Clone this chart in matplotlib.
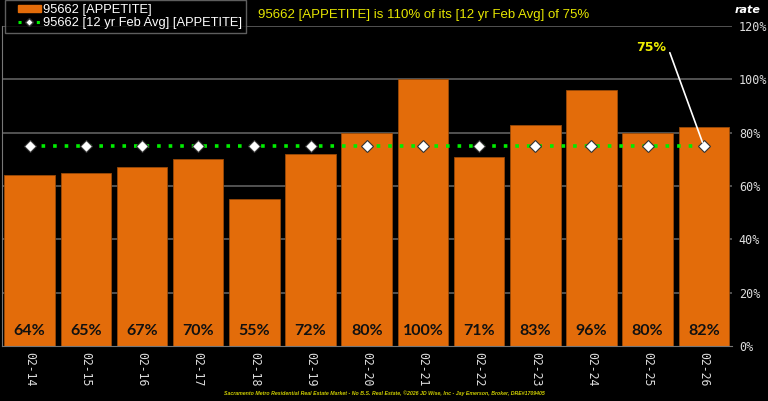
import matplotlib
matplotlib.use("Agg")
import matplotlib.pyplot as plt
from matplotlib.lines import Line2D
from matplotlib.patches import Patch
from matplotlib.legend_handler import HandlerLine2D, HandlerPatch

categories = ["02-14", "02-15", "02-16", "02-17", "02-18", "02-19", "02-20",
              "02-21", "02-22", "02-23", "02-24", "02-25", "02-26"]
appetite = [64, 65, 67, 70, 55, 72, 80, 100, 71, 83, 96, 80, 82]
avg_12yr = [75] * 13
yticks = [0, 20, 40, 60, 80, 100, 120]


class ShiftedLine(HandlerLine2D):
    def create_artists(self, legend, orig_handle, xdescent, ydescent, width,
                       height, fontsize, trans):
        s = width * 0.3
        return super().create_artists(legend, orig_handle, xdescent - s, ydescent,
                                      width - s, height, fontsize, trans)


class ShiftedPatch(HandlerPatch):
    def create_artists(self, legend, orig_handle, xdescent, ydescent, width,
                       height, fontsize, trans):
        s = width * 0.3
        return super().create_artists(legend, orig_handle, xdescent - s, ydescent,
                                      width - s, height, fontsize, trans)


fig = plt.figure(figsize=(7.68, 4.01), dpi=100, facecolor="black")
ax = fig.add_axes([0.002, 0.137, 0.951, 0.798], facecolor="black")

x = list(range(len(categories)))
for yt in yticks[1:]:
    ax.axhline(yt, color="#606060", linewidth=1.2, zorder=0.5)
ax.bar(x, appetite, width=0.9, color="#E36C0A", edgecolor="#9a4a08", linewidth=0.6, zorder=2)
for xi, v in zip(x, appetite):
    ax.text(xi, 3.2, f"{v}%", ha="center", va="bottom", fontsize=11.5,
            fontweight="bold", family="Lato", color="#111111", zorder=4)

ax.plot(x, avg_12yr, linestyle=(0, (1, 2.2)), color="#00ee00", linewidth=2.6,
        marker="D", markersize=6, markerfacecolor="white", markeredgecolor="#333333",
        markeredgewidth=0.8, zorder=3)

ax.set_xlim(-0.5, len(categories) - 0.5)
ax.set_ylim(0, 120)
ax.set_yticks(yticks)
ax.set_yticklabels([f"{t}%" for t in yticks], family="DejaVu Sans Mono",
                   fontsize=8.5, color="#dddddd")
ax.yaxis.tick_right()
ax.tick_params(axis="y", length=0, pad=5)
ax.set_xticks(x)
ax.set_xticklabels(categories, rotation=-90, family="DejaVu Sans Mono",
                   fontsize=8.3, color="#dddddd")
ax.tick_params(axis="x", length=0, pad=4)
for s in ["top", "right"]:
    ax.spines[s].set_visible(False)
ax.spines["left"].set_color("#777777")
ax.spines["bottom"].set_color("#777777")

# annotation for last avg point
ax.annotate(f"{avg_12yr[-1]}%", xy=(x[-1], avg_12yr[-1]), xytext=(x[-1] - 0.93, 112),
            ha="center", va="center", fontsize=9, fontweight="bold", color="#eeee00",
            arrowprops=dict(arrowstyle="-", color="white", lw=1.2, relpos=(1.0, 0.5),
                            connectionstyle="angle,angleA=0,angleB=110,rad=0",
                            shrinkA=1, shrinkB=3), zorder=5)

handles = [Patch(facecolor="#E36C0A", edgecolor="#E36C0A"),
           Line2D([0], [0], linestyle=(0, (1, 2)), color="#00ee00", linewidth=2.2,
                  marker="D", markersize=4.5, markerfacecolor="white",
                  markeredgecolor="#333333")]
leg = fig.legend(handles, ["95662 [APPETITE]", "95662 [12 yr Feb Avg] [APPETITE]"],
                 loc="upper left", bbox_to_anchor=(0.006, 1.0), frameon=True,
                 prop={"family": "Liberation Sans", "size": 9.3},
                 labelcolor="white", handlelength=2.5, handleheight=0.45,
                 borderpad=0.3, labelspacing=0.1, handletextpad=0.2,
                 borderaxespad=0.0, fancybox=False,
                 handler_map={Patch: ShiftedPatch(), Line2D: ShiftedLine()})
leg.get_frame().set_facecolor("black")
leg.get_frame().set_edgecolor("#777777")

fig.text(0.336, 0.962, "95662 [APPETITE] is 110% of its [12 yr Feb Avg] of 75%",
         color="#e6e600", fontsize=9.5, family="Liberation Sans", va="center", ha="left")
fig.text(0.974, 0.975, "rate", color="white", fontsize=8, style="italic",
         fontweight="bold", ha="center", va="center")
fig.text(0.5, 0.019,
         "Sacramento Metro Residential Real Estate Market - No B.S. Real Estate, \u00a92026 JD Wise, Inc - Jay Emerson, Broker, DRE#1709405",
         color="#cccc00", fontsize=3.8, style="italic", fontweight="bold",
         family="Liberation Sans", ha="center", va="center")

fig.savefig("out.png", dpi=100, facecolor="black")
